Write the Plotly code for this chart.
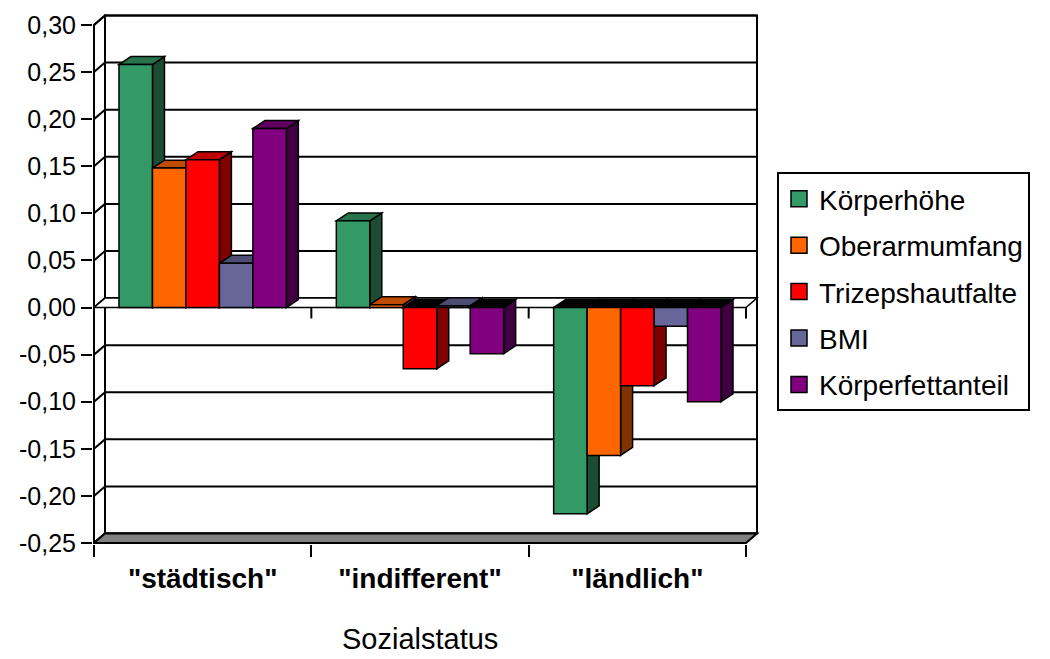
import plotly.graph_objects as go

# ---------------- data ----------------
categories = ['"städtisch"', '"indifferent"', '"ländlich"']
series_names = ["Körperhöhe", "Oberarmumfang", "Trizepshautfalte", "BMI", "Körperfettanteil"]
koerperhoehe = [0.258, 0.092, -0.219]
oberarmumfang = [0.148, 0.003, -0.157]
trizepshautfalte = [0.157, -0.065, -0.083]
bmi = [0.047, 0.002, -0.020]
koerperfettanteil = [0.190, -0.049, -0.100]
y_tickvals = [0.30, 0.25, 0.20, 0.15, 0.10, 0.05, 0.0, -0.05, -0.10, -0.15, -0.20, -0.25]
y_ticktext = ["0,30", "0,25", "0,20", "0,15", "0,10", "0,05", "0,00",
              "-0,05", "-0,10", "-0,15", "-0,20", "-0,25"]
x_title = "Sozialstatus"

# ---------------- styling ----------------
front_colors = ["#339966", "#FF6600", "#FF0000", "#666699", "#800080"]
top_colors = ["#26734C", "#BF4C00", "#BF0000", "#4D4D73", "#600060"]
side_colors = ["#1A4D33", "#803300", "#800000", "#33334D", "#400040"]
FONT = "Liberation Sans, Arial, sans-serif"

values = [koerperhoehe, oberarmumfang, trizepshautfalte, bmi, koerperfettanteil]
n_series = len(values)
BARGAP = 0.23

# pixel geometry (front plane)
PX_X = 652 / 3.0          # px per category unit
PX_Y = 521 / 0.55         # px per y unit
Y_MIN, Y_MAX = -0.25, 0.30
X_MIN, X_MAX = -0.5, 2.5
# depth offsets (data units)
WDX, WDY = 11 / PX_X, 9.5 / PX_Y
BDX, BDY = 12 / PX_X, 8 / PX_Y

plot_left, plot_right, plot_top, plot_bottom = 93, 760, 11, 544
front_left_px, front_top_px = 94, 22
front_bottom_px = 543
front_right_px = front_left_px + 652
x_range = [X_MIN - (front_left_px - plot_left) / PX_X, X_MAX + (plot_right - front_right_px) / PX_X]
y_range = [Y_MIN - (plot_bottom - front_bottom_px) / PX_Y, Y_MAX + (front_top_px - plot_top) / PX_Y]

fig = go.Figure()

# front faces of the bars
for k in range(n_series):
    fig.add_trace(go.Bar(
        x=list(range(len(categories))), y=values[k], name=series_names[k],
        marker=dict(color=front_colors[k], line=dict(color="black", width=1.5)),
        showlegend=False, legendgroup=series_names[k], hoverinfo="skip"))
# legend entries
for k in range(n_series):
    fig.add_trace(go.Scatter(
        x=[None], y=[None], mode="markers", name=series_names[k],
        legendgroup=series_names[k],
        marker=dict(symbol="square", size=16, color=front_colors[k],
                    line=dict(color="black", width=1.5))))

shapes = []
def poly(pts, fill, lw=1.5, lc="black"):
    path = "M " + " L ".join(f"{x},{y}" for x, y in pts) + " Z"
    shapes.append(dict(type="path", path=path, xref="x", yref="y", layer="below",
                       fillcolor=fill, line=dict(color=lc, width=lw)))
def line(x0, y0, x1, y1, lw=1.5, lc="black"):
    shapes.append(dict(type="line", x0=x0, y0=y0, x1=x1, y1=y1, xref="x", yref="y",
                       layer="below", line=dict(color=lc, width=lw)))

# back wall
poly([(X_MIN + WDX, Y_MIN + WDY), (X_MAX + WDX, Y_MIN + WDY),
      (X_MAX + WDX, Y_MAX + WDY), (X_MIN + WDX, Y_MAX + WDY)], "white", 2)
for v in y_tickvals:
    line(X_MIN + WDX, v + WDY, X_MAX + WDX, v + WDY, 2)
# left wall
poly([(X_MIN, Y_MIN), (X_MIN, Y_MAX), (X_MIN + WDX, Y_MAX + WDY), (X_MIN + WDX, Y_MIN + WDY)], "white", 2)
for v in y_tickvals:
    line(X_MIN, v, X_MIN + WDX, v + WDY, 2)
# floor
poly([(X_MIN, Y_MIN), (X_MAX, Y_MIN), (X_MAX + WDX, Y_MIN + WDY), (X_MIN + WDX, Y_MIN + WDY)], "#808080", 2)
# zero plane
poly([(X_MIN, 0), (X_MAX, 0), (X_MAX + WDX, WDY), (X_MIN + WDX, WDY)], "white", 1.5)
for xb in [X_MIN + 1, X_MIN + 2, X_MAX]:
    line(xb, 0, xb, -11 / PX_Y, 2)

# side and top faces of the bars
gw = 1 - BARGAP
w = gw / n_series
for c in range(len(categories)):
    for k in range(n_series):
        v = values[k][c]
        x0 = c - gw / 2 + k * w
        x1 = x0 + w
        poly([(x1, 0), (x1, v), (x1 + BDX, v + BDY), (x1 + BDX, BDY)], side_colors[k])
        if v >= 0:
            poly([(x0, v), (x1, v), (x1 + BDX, v + BDY), (x0 + BDX, v + BDY)], top_colors[k])
        else:
            poly([(x0, 0), (x1, 0), (x1 + BDX, BDY), (x0 + BDX, BDY)], "black")

fig.update_layout(
    width=1050, height=659, autosize=False,
    margin=dict(l=plot_left, r=1050 - plot_right, t=plot_top, b=659 - plot_bottom, pad=0),
    paper_bgcolor="white", plot_bgcolor="rgba(0,0,0,0)",
    font=dict(family=FONT, size=25, color="black"),
    barmode="group", bargap=BARGAP, bargroupgap=0,
    shapes=shapes, hovermode=False,
    xaxis=dict(range=x_range, showgrid=False, zeroline=False, showline=False,
               tickmode="array", tickvals=list(range(len(categories))), ticktext=categories,
               ticks="", tickfont=dict(family=FONT, size=28, color="black", weight="bold"),
               ticklabelstandoff=15,
               minor=dict(tickmode="array", tickvals=[X_MIN, X_MIN + 1, X_MIN + 2, X_MAX],
                          ticks="outside", ticklen=12, tickwidth=2, tickcolor="black")),
    yaxis=dict(range=y_range, showgrid=False, zeroline=False, showline=False,
               tickmode="array", tickvals=y_tickvals, ticktext=y_ticktext,
               ticks="outside", ticklen=11, tickwidth=2, tickcolor="black",
               tickfont=dict(family=FONT, size=25, color="black")),
    legend=dict(x=(777 - plot_left) / (plot_right - plot_left),
                y=(plot_bottom - 170) / (plot_bottom - plot_top),
                xanchor="left", yanchor="top",
                bgcolor="white", bordercolor="black", borderwidth=2,
                font=dict(family=FONT, size=28, color="black"),
                entrywidth=222, entrywidthmode="pixels",
                tracegroupgap=7, itemclick=False, itemdoubleclick=False),
    annotations=[dict(text=x_title, x=1.0, xref="x", y=(plot_bottom - 640) / (plot_bottom - plot_top),
                      yref="paper", yanchor="middle", xanchor="center", showarrow=False,
                      font=dict(family=FONT, size=29, color="black"))],
)

fig.write_html("out.html", config={"displayModeBar": False},
               post_script="document.body.style.margin='0';document.body.style.padding='0';")
